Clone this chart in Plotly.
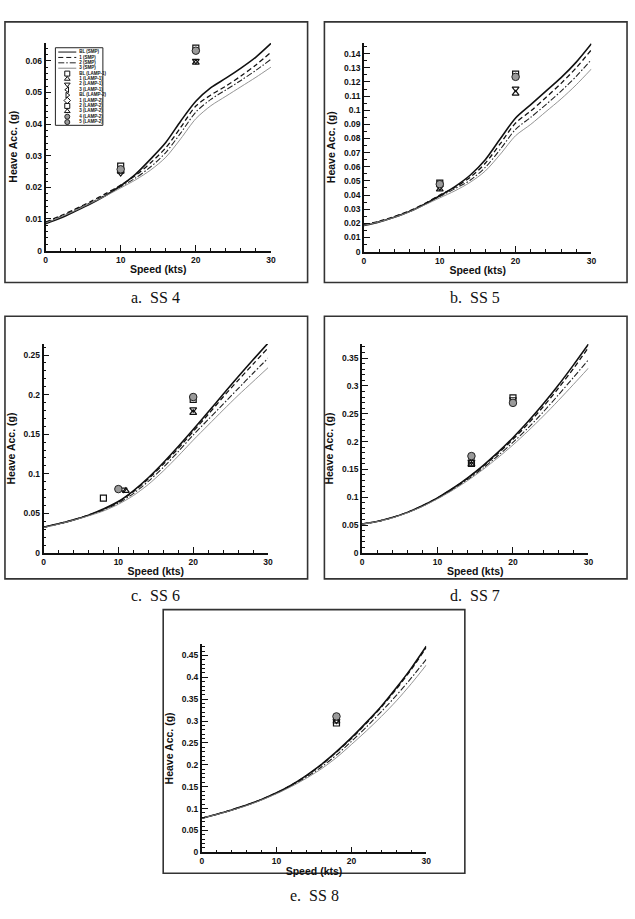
import plotly.graph_objects as go

W, H = 635, 919

# ---------------- data ----------------
speed = [0, 2, 4, 6, 8, 10, 12, 14, 16, 18, 20, 22, 24, 26, 28, 30]

# SS 4
ss4_bl = [0.0085, 0.0103, 0.0125, 0.0148, 0.0174, 0.0205, 0.0242, 0.0290, 0.0342, 0.0410, 0.0472, 0.0515, 0.0545, 0.0577, 0.0612, 0.0655]
ss4_1 = [0.0090, 0.0110, 0.0132, 0.0155, 0.0180, 0.0207, 0.0238, 0.0278, 0.0325, 0.0390, 0.0457, 0.0492, 0.0520, 0.0552, 0.0587, 0.0627]
ss4_2 = [0.0088, 0.0108, 0.0130, 0.0152, 0.0176, 0.0202, 0.0230, 0.0265, 0.0310, 0.0372, 0.0438, 0.0478, 0.0508, 0.0538, 0.0570, 0.0605]
ss4_3 = [0.0087, 0.0106, 0.0127, 0.0150, 0.0173, 0.0198, 0.0224, 0.0255, 0.0295, 0.0354, 0.0417, 0.0458, 0.0488, 0.0518, 0.0548, 0.0580]
# SS 5
ss5_bl = [0.0185, 0.0210, 0.0243, 0.0283, 0.0335, 0.0395, 0.0460, 0.0540, 0.0650, 0.0800, 0.0945, 0.1040, 0.1135, 0.1230, 0.1340, 0.1470]
ss5_1 = [0.0190, 0.0215, 0.0248, 0.0288, 0.0340, 0.0400, 0.0455, 0.0525, 0.0625, 0.0765, 0.0910, 0.0995, 0.1090, 0.1190, 0.1300, 0.1428]
ss5_2 = [0.0188, 0.0212, 0.0245, 0.0285, 0.0335, 0.0390, 0.0445, 0.0505, 0.0595, 0.0725, 0.0865, 0.0950, 0.1040, 0.1135, 0.1240, 0.1358]
ss5_3 = [0.0186, 0.0210, 0.0242, 0.0281, 0.0330, 0.0380, 0.0430, 0.0490, 0.0570, 0.0690, 0.0820, 0.0900, 0.0990, 0.1080, 0.1180, 0.1292]
# SS 6
ss6_bl = [0.0325, 0.0368, 0.0418, 0.0478, 0.0555, 0.0650, 0.0785, 0.0950, 0.1140, 0.1345, 0.1560, 0.1780, 0.2005, 0.2225, 0.2440, 0.2650]
ss6_1 = [0.0325, 0.0368, 0.0418, 0.0478, 0.0550, 0.0645, 0.0775, 0.0935, 0.1120, 0.1320, 0.1535, 0.1750, 0.1970, 0.2180, 0.2385, 0.2590]
ss6_2 = [0.0322, 0.0366, 0.0416, 0.0474, 0.0540, 0.0630, 0.0750, 0.0905, 0.1080, 0.1280, 0.1490, 0.1685, 0.1880, 0.2075, 0.2270, 0.2460]
ss6_3 = [0.0320, 0.0364, 0.0413, 0.0468, 0.0530, 0.0615, 0.0725, 0.0865, 0.1035, 0.1225, 0.1425, 0.1615, 0.1805, 0.1990, 0.2165, 0.2340]
# SS 7
ss7_bl = [0.0520, 0.0565, 0.0635, 0.0729, 0.0847, 0.0990, 0.1157, 0.1349, 0.1565, 0.1805, 0.2070, 0.2359, 0.2673, 0.3011, 0.3373, 0.3750]
ss7_1 = [0.0520, 0.0565, 0.0635, 0.0729, 0.0847, 0.0990, 0.1155, 0.1342, 0.1552, 0.1785, 0.2040, 0.2320, 0.2625, 0.2955, 0.3310, 0.3690]
ss7_2 = [0.0520, 0.0564, 0.0632, 0.0724, 0.0840, 0.0980, 0.1140, 0.1320, 0.1520, 0.1745, 0.1985, 0.2245, 0.2530, 0.2835, 0.3150, 0.3470]
ss7_3 = [0.0518, 0.0562, 0.0629, 0.0720, 0.0834, 0.0970, 0.1125, 0.1300, 0.1495, 0.1710, 0.1940, 0.2190, 0.2455, 0.2735, 0.3025, 0.3320]
# SS 8
ss8_bl = [0.0780, 0.0870, 0.0970, 0.1080, 0.1210, 0.1360, 0.1540, 0.1760, 0.2010, 0.2300, 0.2620, 0.2970, 0.3340, 0.3760, 0.4210, 0.4710]
ss8_1 = [0.0780, 0.0870, 0.0970, 0.1080, 0.1210, 0.1360, 0.1540, 0.1750, 0.2000, 0.2290, 0.2600, 0.2950, 0.3320, 0.3730, 0.4180, 0.4680]
ss8_2 = [0.0780, 0.0868, 0.0965, 0.1075, 0.1205, 0.1352, 0.1525, 0.1720, 0.1950, 0.2225, 0.2535, 0.2865, 0.3215, 0.3585, 0.3985, 0.4410]
ss8_3 = [0.0780, 0.0865, 0.0960, 0.1068, 0.1195, 0.1340, 0.1505, 0.1695, 0.1910, 0.2165, 0.2465, 0.2775, 0.3105, 0.3460, 0.3855, 0.4280]

# LAMP points (speed, value)
ss4_sq_x, ss4_sq_y = [10, 20], [0.0267, 0.0640]
ss4_tu_x, ss4_tu_y = [10, 20], [0.0250, 0.0594]
ss4_td_x, ss4_td_y = [10, 20], [0.0245, 0.0600]
ss4_ci_x, ss4_ci_y = [10, 20], [0.0257, 0.0632]

ss5_sq_x, ss5_sq_y = [10, 20], [0.0485, 0.1255]
ss5_tu_x, ss5_tu_y = [10, 20], [0.0440, 0.1118]
ss5_td_x, ss5_td_y = [10, 20], [0.0455, 0.1153]
ss5_ci_x, ss5_ci_y = [10, 20], [0.0477, 0.1236]

ss6_sq_x, ss6_sq_y = [8, 20], [0.0693, 0.1940]
ss6_tu_x, ss6_tu_y = [11, 20], [0.0785, 0.1770]
ss6_td_x, ss6_td_y = [10.7, 20], [0.0800, 0.1815]
ss6_ci_x, ss6_ci_y = [10, 20], [0.0807, 0.1970]

ss7_sq_x, ss7_sq_y = [14.5, 20], [0.1610, 0.2785]
ss7_tu_x, ss7_tu_y = [14.5], [0.1590]
ss7_td_x, ss7_td_y = [14.5, 20], [0.1640, 0.2760]
ss7_ci_x, ss7_ci_y = [14.5, 20], [0.1740, 0.2695]

ss8_sq_x, ss8_sq_y = [18], [0.2955]
ss8_tu_x, ss8_tu_y = [18], [0.2990]
ss8_td_x, ss8_td_y = [18], [0.3010]
ss8_ci_x, ss8_ci_y = [18], [0.3106]

captions = ["a.  SS 4", "b.  SS 5", "c.  SS 6", "d.  SS 7", "e.  SS 8"]
x_title = "Speed (kts)"
y_title = "Heave Acc. (g)"
legend_labels = ["BL (SMP)", "1 (SMP)", "2 (SMP)", "3 (SMP)",
                 "BL (LAMP-1)", "1 (LAMP-1)", "2 (LAMP-1)", "3 (LAMP-1)",
                 "BL (LAMP-2)", "1 (LAMP-2)", "2 (LAMP-2)", "3 (LAMP-2)",
                 "4 (LAMP-2)", "5 (LAMP-2)"]

# ---------------- styles ----------------
line_styles = [
    dict(color="#111111", width=1.6, dash="solid"),
    dict(color="#111111", width=1.3, dash="5px,3px"),
    dict(color="#222222", width=1.1, dash="6px,2px,1.5px,2px"),
    dict(color="#888888", width=0.9, dash="solid"),
]
mk_sq = dict(symbol="square-open", size=6, color="#111111", line=dict(width=1.2))
mk_tu = dict(symbol="triangle-up-open", size=6, color="#111111", line=dict(width=1.2))
mk_td = dict(symbol="triangle-down-open", size=6, color="#111111", line=dict(width=1.2))
mk_ci = dict(symbol="circle", size=7.5, color="#9a9a9a", line=dict(width=1, color="#222222"))

def fx(px):
    return px / W

def fy(py):
    return 1 - py / H

panels = [
    dict(lines=[ss4_bl, ss4_1, ss4_2, ss4_3], pts=[(ss4_sq_x, ss4_sq_y), (ss4_tu_x, ss4_tu_y), (ss4_td_x, ss4_td_y), (ss4_ci_x, ss4_ci_y)],
         x0=44, x1=272, y0=252, y1=43, ymax=0.0657, dt=0.01, mdt=0.002, frame=(3, 22, 309, 284), cap=(155, 299)),
    dict(lines=[ss5_bl, ss5_1, ss5_2, ss5_3], pts=[(ss5_sq_x, ss5_sq_y), (ss5_tu_x, ss5_tu_y), (ss5_td_x, ss5_td_y), (ss5_ci_x, ss5_ci_y)],
         x0=366, x1=596, y0=253, y1=43, ymax=0.1477, dt=0.01, mdt=0.005, frame=(326, 22, 632, 284), cap=(478, 299)),
    dict(lines=[ss6_bl, ss6_1, ss6_2, ss6_3], pts=[(ss6_sq_x, ss6_sq_y), (ss6_tu_x, ss6_tu_y), (ss6_td_x, ss6_td_y), (ss6_ci_x, ss6_ci_y)],
         x0=42, x1=269, y0=556, y1=346, ymax=0.2638, dt=0.05, mdt=0.01, frame=(3, 318, 309, 582), cap=(155, 599)),
    dict(lines=[ss7_bl, ss7_1, ss7_2, ss7_3], pts=[(ss7_sq_x, ss7_sq_y), (ss7_tu_x, ss7_tu_y), (ss7_td_x, ss7_td_y), (ss7_ci_x, ss7_ci_y)],
         x0=364, x1=593, y0=556, y1=346, ymax=0.375, dt=0.05, mdt=0.01, frame=(326, 318, 632, 582), cap=(478, 599)),
    dict(lines=[ss8_bl, ss8_1, ss8_2, ss8_3], pts=[(ss8_sq_x, ss8_sq_y), (ss8_tu_x, ss8_tu_y), (ss8_td_x, ss8_td_y), (ss8_ci_x, ss8_ci_y)],
         x0=202, x1=429, y0=857, y1=648, ymax=0.475, dt=0.05, mdt=0.01, frame=(163, 613, 468, 878), cap=(316, 900)),
]

fig = go.Figure()
layout = dict(width=W, height=H, margin=dict(l=0, r=0, t=0, b=0), paper_bgcolor="white",
              plot_bgcolor="rgba(0,0,0,0)", showlegend=False, shapes=[], annotations=[])

tick_font = dict(family="Liberation Sans", size=8.5, color="#111111", weight="bold")
title_font = dict(family="Liberation Sans", size=10.5, color="#111111", weight="bold")

for i, p in enumerate(panels):
    n = i + 1
    xa = "x" if n == 1 else f"x{n}"
    ya = "y" if n == 1 else f"y{n}"
    for s, st in zip(p["lines"], line_styles):
        fig.add_trace(go.Scatter(x=speed, y=s, mode="lines", line=dict(st, shape="spline", smoothing=0.8),
                                 xaxis=xa, yaxis=ya, hoverinfo="skip"))
    for (xs, ys), mk in zip(p["pts"], [mk_sq, mk_tu, mk_td, mk_ci]):
        fig.add_trace(go.Scatter(x=xs, y=ys, mode="markers", marker=mk, xaxis=xa, yaxis=ya, cliponaxis=False))
    xk = "xaxis" if n == 1 else f"xaxis{n}"
    yk = "yaxis" if n == 1 else f"yaxis{n}"
    layout[xk] = dict(domain=[fx(p["x0"]), fx(p["x1"])], range=[0, 30], anchor=ya, tick0=0, dtick=10,
                      showline=True, linecolor="#111111", linewidth=1.5, ticks="inside", ticklen=6,
                      tickwidth=1.2, tickcolor="#111111", showgrid=False, zeroline=False,
                      minor=dict(dtick=2, ticks="inside", ticklen=3, tickcolor="#111111", tickwidth=1, showgrid=False),
                      tickfont=tick_font, title=dict(text=x_title, font=title_font, standoff=2))
    layout[yk] = dict(domain=[fy(p["y0"]), fy(p["y1"])], range=[0, p["ymax"]], anchor=xa, tick0=0, dtick=p["dt"],
                      showline=True, linecolor="#111111", linewidth=1.5, ticks="inside", ticklen=6,
                      tickwidth=1.2, tickcolor="#111111", showgrid=False, zeroline=False,
                      minor=dict(dtick=p["mdt"], ticks="inside", ticklen=3, tickcolor="#111111", tickwidth=1, showgrid=False),
                      tickfont=tick_font, title=dict(text=y_title, font=title_font, standoff=6))
    fl, ft, fr, fb = p["frame"]
    layout["shapes"].append(dict(type="rect", xref="paper", yref="paper", x0=fx(fl), x1=fx(fr), y0=fy(fb), y1=fy(ft),
                                 line=dict(color="#333333", width=1.6)))
    cx, cy = p["cap"]
    layout["annotations"].append(dict(text=captions[i], xref="paper", yref="paper", x=fx(cx), y=fy(cy),
                                      showarrow=False, xanchor="center", yanchor="middle",
                                      font=dict(family="Liberation Serif", size=16, color="#111111")))

# ---------------- legend (panel a) drawn on its own small axes ----------------
nrow = len(legend_labels)
leg_x = [0.06, 0.44]
leg_mark_x = 0.25
rows = list(range(nrow))
for r in range(4):
    fig.add_trace(go.Scatter(x=leg_x, y=[r + 0.8, r + 0.8], mode="lines", line=dict(line_styles[r], width=1),
                             xaxis="x6", yaxis="y6", hoverinfo="skip"))
leg_symbols = ["square-open", "triangle-up-open", "triangle-down-open", "triangle-left-open", "triangle-right-open",
               "diamond-open", "square-open", "triangle-up-open", "circle", "circle"]
leg_fill = ["#111111"] * 8 + ["#9a9a9a", "#9a9a9a"]
for k, (sym, col) in enumerate(zip(leg_symbols, leg_fill)):
    fig.add_trace(go.Scatter(x=[leg_mark_x], y=[4 + k + 0.8], mode="markers",
                             marker=dict(symbol=sym, size=5, color=col, line=dict(width=1, color="#222222")),
                             xaxis="x6", yaxis="y6", hoverinfo="skip", cliponaxis=False))
fig.add_trace(go.Scatter(x=[0.5] * nrow, y=[r + 0.8 for r in rows], mode="text", text=legend_labels,
                         textposition="middle right", cliponaxis=False,
                         textfont=dict(family="Liberation Sans", size=4.5, color="#111111", weight="bold"),
                         xaxis="x6", yaxis="y6", hoverinfo="skip"))
layout["xaxis6"] = dict(domain=[fx(54), fx(102)], range=[0, 1], anchor="y6", visible=False, fixedrange=True)
layout["yaxis6"] = dict(domain=[fy(126), fy(48)], range=[nrow + 0.4, 0], anchor="x6", visible=False, fixedrange=True)
layout["shapes"].append(dict(type="rect", xref="x6 domain", yref="y6 domain", x0=0, x1=1, y0=0, y1=1,
                             line=dict(color="#222222", width=1)))

fig.update_layout(**layout)
fig.write_html("out.html")
